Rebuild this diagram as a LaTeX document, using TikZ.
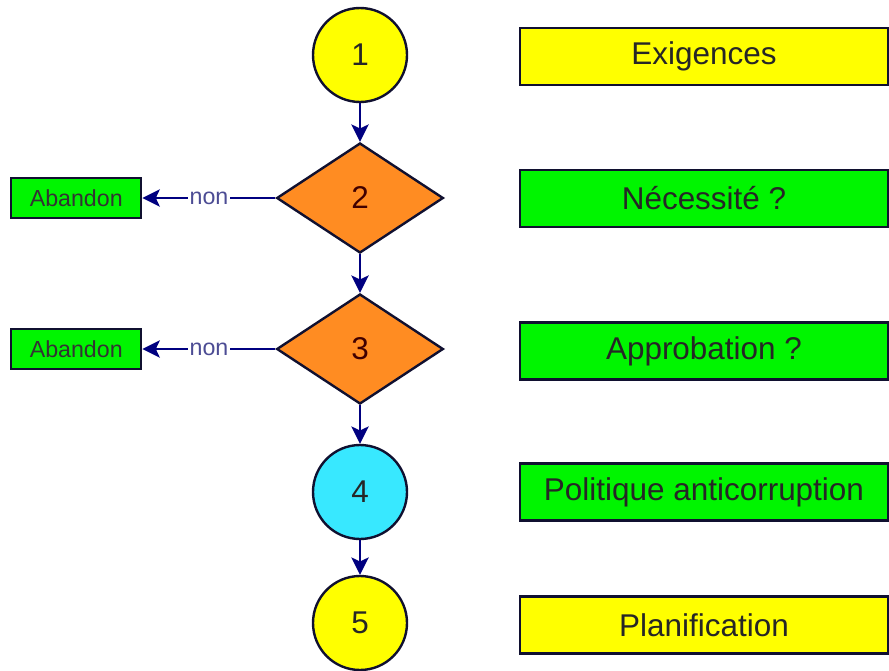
\documentclass[tikz,border=0pt]{standalone}
\usepackage{fontspec}
\setmainfont{Liberation Sans}
\usetikzlibrary{shapes,shapes.geometric,arrows.meta}
\usetikzlibrary{positioning}

\definecolor{stepyellow}{HTML}{FFFF00}
\definecolor{stepgreen}{HTML}{00F500}
\definecolor{steporange}{HTML}{FF8C22}
\definecolor{stepcyan}{HTML}{38E8FF}
\definecolor{rim}{HTML}{101030}
\definecolor{flow}{HTML}{000080}

\tikzset{
  stage/.style={circle, draw=rim, line width=1.8pt, minimum size=70.5pt, inner sep=0pt,
    font=\fontsize{23.6}{28}\selectfont, text=black!85},
  test/.style={diamond, draw=rim, line width=1.8pt, fill=steporange, minimum width=125pt,
    minimum height=82.5pt, inner sep=0pt, font=\fontsize{23.6}{28}\selectfont, text=black!75!red},
  caption/.style={rectangle, draw=rim, line width=1.8pt, minimum width=276pt, minimum height=42.75pt,
    inner sep=0pt, font=\fontsize{23.6}{28}\selectfont, text=black!85},
  stop/.style={rectangle, draw=rim, line width=1.8pt, fill=stepgreen, minimum width=97.5pt,
    minimum height=30pt, inner sep=0pt, font=\fontsize{17.4}{20}\selectfont, text=black!80},
  flowline/.style={draw=flow, line width=1.9pt, -{Stealth[length=13pt,width=13pt,inset=3pt]}},
  nolabel/.style={fill=white, inner sep=1pt, text=black!60!blue!70, font=\fontsize{17.4}{20}\selectfont}
}

\begin{document}
\begin{tikzpicture}[x=0.75pt, y=-0.75pt]
  \useasboundingbox[fill=white] (0,0) rectangle (889,671);

  % Main column
  \node[stage, fill=stepyellow] (c1) at (360,55) {1};
  \node[test] (d2) at (360,198) {2};
  \node[test] (d3) at (360,349) {3};
  \node[stage, fill=stepcyan] (c4) at (360,492) {4};
  \node[stage, fill=stepyellow] (c5) at (360,623) {5};

  % Rejections
  \node[stop] (ab2) [left=99.75pt of d2] {Abandon};
  \node[stop] (ab3) [left=99.75pt of d3] {Abandon};

  % Captions on the right
  \node[caption, fill=stepyellow] (t1) at (704,56.5) {Exigences};
  \node[caption, fill=stepgreen] (t2) at (704,198.5) {Nécessité ?};
  \node[caption, fill=stepgreen] (t3) at (704,351) {Approbation ?};
  \node[caption, fill=stepgreen] (t4) at (704,492) {Politique anticorruption};
  \node[caption, fill=stepyellow] (t5) at (704,625) {Planification};

  \draw[flowline] (c1) -- (d2);
  \draw[flowline] (d2) -- (d3);
  \draw[flowline] (d3) -- (c4);
  \draw[flowline] (c4) -- (c5);
  \draw[flowline] (d2.west) -- node[nolabel] {non} (ab2.east);
  \draw[flowline] (d3.west) -- node[nolabel] {non} (ab3.east);
\end{tikzpicture}
\end{document}
